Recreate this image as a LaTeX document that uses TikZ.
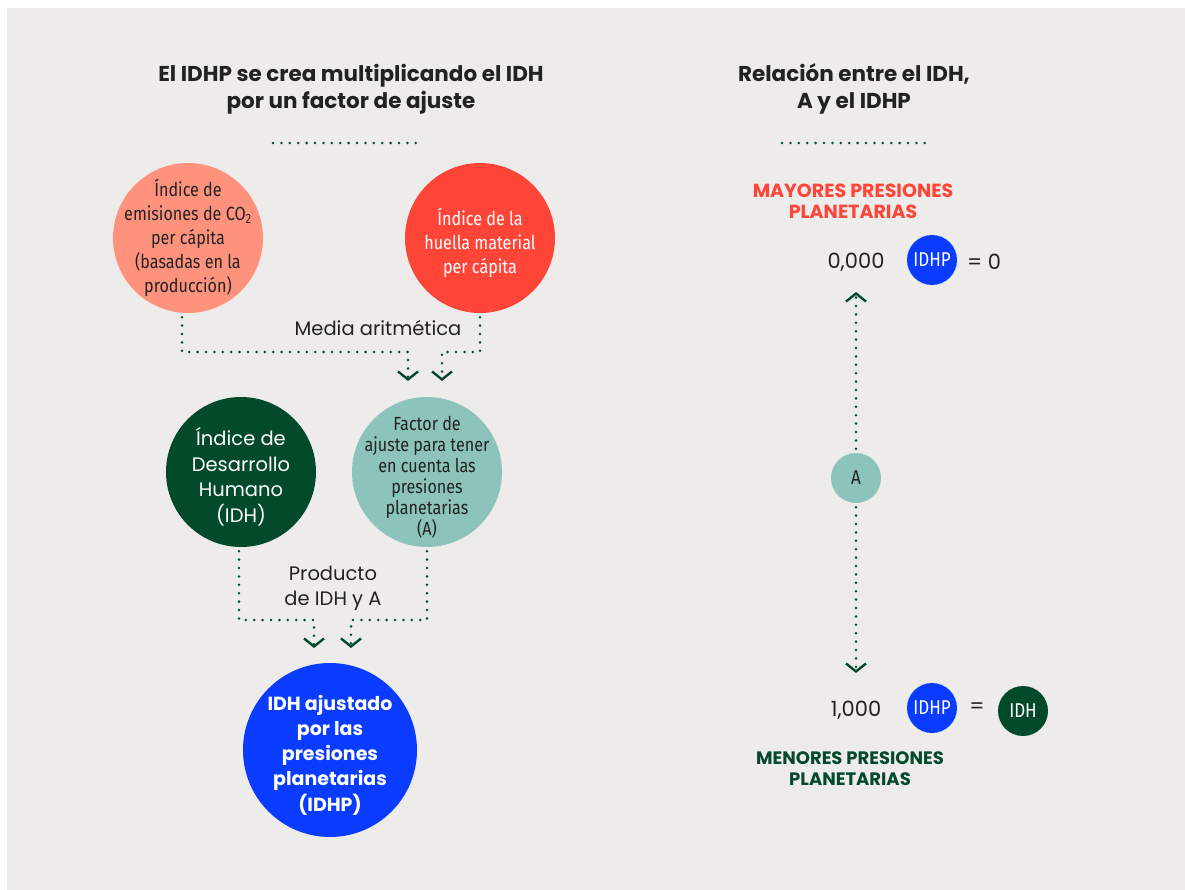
\documentclass[tikz,border=0pt]{standalone}
\usepackage{fontspec}
\setmainfont{Poppins}
\newfontfamily\condfont[FakeStretch=0.85]{Fira Sans}
\usetikzlibrary{arrows.meta}

\definecolor{panel}{HTML}{EEECEA}
\definecolor{ink}{HTML}{222222}
\definecolor{forest}{HTML}{034A2B}
\definecolor{salmon}{HTML}{FF927C}
\definecolor{hotred}{HTML}{FF4538}
\definecolor{seafoam}{HTML}{8CC3BA}
\definecolor{royal}{HTML}{0A3CFF}

\begin{document}
\begin{tikzpicture}[
    x=1pt, y=-1pt,
    disc/.style={circle, minimum size=150pt, inner sep=0pt},
    cond/.style={align=center, font=\condfont\fontsize{19}{24}\selectfont},
    dot/.style={circle, minimum size=50pt, inner sep=0pt, text=white, font=\condfont\fontsize{20}{22}\selectfont},
    title/.style={font=\bfseries\fontsize{21.5}{27}\selectfont, text=ink, align=center},
    note/.style={font=\fontsize{19.5}{25}\selectfont, text=ink, align=center},
    value/.style={font=\fontsize{21}{24}\selectfont, text=ink},
    caps/.style={font=\bfseries\fontsize{19}{21}\selectfont, align=center},
    rule/.style={draw=forest, line width=2.8pt, line cap=round, dash pattern=on 0pt off 8.4pt},
    link/.style={rule, shorten <=4pt, -{Straight Barb[length=8pt, width=20pt, line width=2.4pt]}}
]

% Background
\fill[white] (0,0) rectangle (1185,890);
\fill[panel] (7,8) rectangle (1185,890);

% Left heading
\node[title] (lefthead) at (351,89) {El IDHP se crea multiplicando el IDH\\por un factor de ajuste};
\draw[rule] (273,143) -- (424,143);

% Inputs
\node[disc, fill=salmon, label={[cond, text=ink]center:{Índice de\\emisiones de CO\textsubscript{2}\\per cápita\\(basadas en la\\producción)}}] (co2) at (188,238) {};
\node[disc, fill=hotred, label={[cond, text=white, yshift=-5]center:{Índice de la\\huella material\\per cápita}}] (huella) at (480,238) {};
\node[note] (mean) at (378,328) {Media aritmética};

% Middle row
\node[disc, fill=forest, label={[note, text=white, font=\fontsize{19.5}{25.5}\selectfont, yshift=-5]center:{Índice de\\Desarrollo\\Humano\\(IDH)}}] (idh) at (241,472) {};
\node[disc, fill=seafoam, label={[cond, text=ink, font=\condfont\fontsize{19}{21}\selectfont, yshift=-5]center:{Factor de\\ajuste para tener\\en cuenta las\\presiones\\planetarias\\(A)}}] (adj) at (427,472) {};
\node[note] (prod) at (333,588) {Producto\\de IDH y A};

% Result
\node[disc, minimum size=174pt, fill=royal, label={[align=center, text=white, font=\bfseries\fontsize{19}{25.3}\selectfont, yshift=-5]center:{IDH ajustado\\por las\\presiones\\planetarias\\(IDHP)}}] (idhp) at (330,750) {};

% Arrows - to adjustment factor
\coordinate (meanL) at (408,352);
\coordinate (meanR) at (442,352);
\coordinate (inL) at (408,381);
\coordinate (inR) at (442,381);
\draw[link] ([xshift=-6]co2.south) |- (meanL) -- (inL);
\draw[link] (huella.south) |- (meanR) -- (inR);

% Arrows - to result
\coordinate (prodL) at (314,620);
\coordinate (prodR) at (351,620);
\coordinate (outL) at (314,648);
\coordinate (outR) at (351,648);
\draw[link] ([xshift=-2]idh.south) |- (prodL) -- (outL);
\draw[link] (adj.south) |- (prodR) -- (outR);

% Right heading
\node[title] (righthead) at (854,89) {Relación entre el IDH,\\A y el IDHP};
\draw[rule] (782,143) -- (932,143);

% Scale
\node[caps, text=hotred] (high) at (853,201) {MAYORES PRESIONES\\PLANETARIAS};
\node[value] (zero) at (856,262) {0,000};
\node[dot, fill=royal] (idhptop) at (932,260) {IDHP};
\node[value] (eqzero) at (984,262) {= 0};

\node[dot, fill=seafoam, text=ink] (a) at (856,478) {A};
\coordinate (up) at (856,292);
\coordinate (down) at (856,673);
\draw[link] (a) -- (up);
\draw[link] (a) -- (down);

\node[value] (one) at (856,710) {1,000};
\node[dot, fill=royal] (idhpbot) at (932,708) {IDHP};
\node[value] (eq) at (977,708) {=};
\node[dot, fill=forest] (idhbot) at (1023,711) {IDH};
\node[caps, text=forest, font=\bfseries\fontsize{18}{21}\selectfont] (low) at (850,769) {MENORES PRESIONES\\PLANETARIAS};

\end{tikzpicture}
\end{document}
